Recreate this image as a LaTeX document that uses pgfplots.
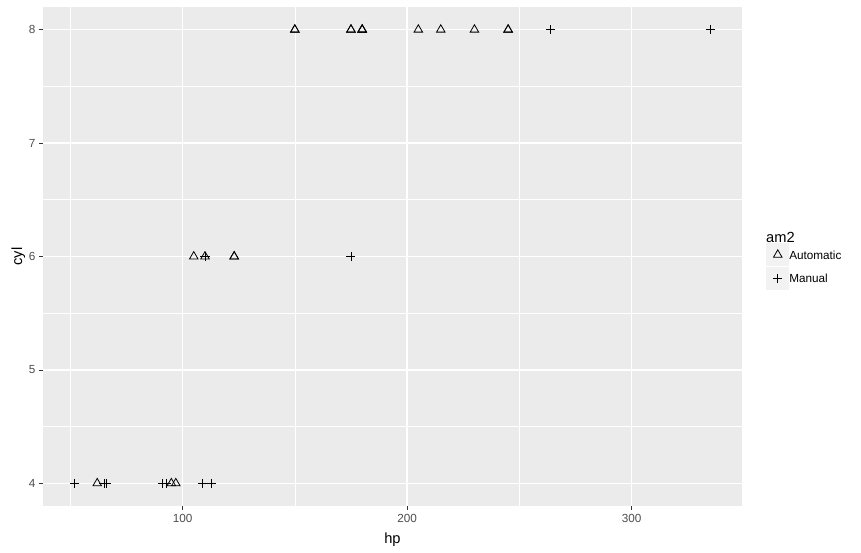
\documentclass[border=0pt]{standalone}
\usepackage{pgfplots}
\pgfplotsset{compat=1.18}
\usepackage{fontspec}
\setmainfont{Liberation Sans}
\definecolor{gg92}{HTML}{EBEBEB}
\definecolor{gg95}{HTML}{F2F2F2}
\definecolor{gg30}{HTML}{4D4D4D}
\definecolor{gg20}{HTML}{333333}
\begin{document}
\begin{tikzpicture}
\useasboundingbox (-32.25pt,-35.25pt) rectangle (613.5pt,379.5pt);
\begin{axis}[
  scale only axis, width=524.25pt, height=374.25pt,
  xmin=37.85, xmax=349.15, ymin=3.8, ymax=8.2,
  xtick={100,200,300}, ytick={4,5,6,7,8},
  minor xtick={50,150,250,350}, minor ytick={4.5,5.5,6.5,7.5},
  grid=both,
  major grid style={white, line width=0.9pt},
  minor grid style={white, line width=0.45pt},
  axis line style={draw=none},
  axis background/.style={fill=gg92},
  tick align=outside, tick pos=left,
  major tick length=2.75pt, minor tick length=0pt,
  tick style={gg20, line width=0.5pt},
  /pgf/number format/assume math mode=true,
  ticklabel style={font=\fontsize{8.8}{10}\selectfont, text=gg30},
  xticklabel style={yshift=-0.2pt},
  yticklabel style={xshift=0.6pt},
  xlabel={hp}, ylabel={cyl},
  label style={font=\fontsize{11}{13}\selectfont},
  xlabel style={yshift=-0.5pt},
  ylabel style={yshift=-4pt},
  clip=false,
  legend cell align=left,
  legend style={at={(1.0343,0.5271)}, anchor=north west, draw=none, fill=none,
    font=\fontsize{8.8}{10}\selectfont, row sep=0.4pt, inner sep=0pt,
    nodes={inner sep=0pt, minimum height=17.28pt, text depth=0pt},
    /tikz/every even column/.append style={column sep=2.6pt}},
  legend image code/.code={
    \fill[gg95, draw=none] (0pt,-8.64pt) rectangle (17.28pt,8.64pt);
    \draw[mark repeat=2, mark phase=2] plot coordinates {(0pt,0pt) (8.64pt,0pt) (17.28pt,0pt)};
  },
]
\addplot[only marks, mark=triangle, mark size=3.7pt, line width=0.6pt, black] coordinates {
(110,6) (175,8) (105,6) (245,8) (62,4) (95,4) (123,6) (123,6) (180,8) (180,8) (180,8)
(205,8) (215,8) (230,8) (97,4) (150,8) (150,8) (245,8) (175,8)};
\addlegendentry{Automatic}
\addplot[only marks, mark=+, mark size=3.4pt, line width=0.6pt, black] coordinates {
(110,6) (110,6) (93,4) (66,4) (52,4) (65,4) (66,4) (91,4) (113,4) (264,8) (175,6) (335,8) (109,4)};
\addlegendentry{Manual}
\node[anchor=base west, font=\fontsize{11}{13}\selectfont, inner sep=0pt] at (axis description cs:1.0343,0.5271) {am2};
\end{axis}
\end{tikzpicture}
\end{document}
